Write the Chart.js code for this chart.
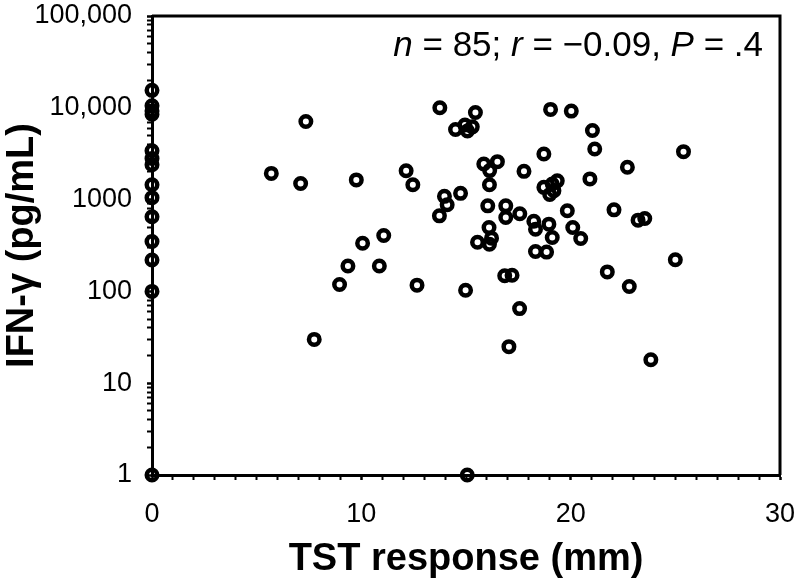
<!DOCTYPE html>
<html>
<head>
<meta charset="utf-8">
<script src="https://cdn.jsdelivr.net/npm/chart.js@4.4.1/dist/chart.umd.min.js"></script>
<style>
  body { margin: 0; background: #fff; }
  canvas { display: block; }
</style>
</head>
<body>
<canvas id="graficoTst" width="800" height="587"></canvas>
<script>
// TST induration (mm) vs IFN-γ (pg/mL), one entry per subject
const tstResponse = [
    0, 0, 0, 0, 0, 0, 0, 0, 0, 0, 0, 0, 0, 0,
    5.7, 7.1, 7.35, 7.75, 8.96, 9.36, 9.76, 10.06, 10.86, 11.07,
    12.14, 12.46, 12.66, 13.75, 14.5, 14.95, 15.07, 15.3, 15.45, 13.97,
    14.74, 14.1, 13.73, 14.98, 15.06, 15.85, 16.5, 16.13, 16.12, 16.04,
    16.1, 15.55, 16.12, 16.22, 16.9, 16.9, 17.57, 17.77, 16.85, 17.2,
    17.56, 17.05, 18.72, 19.04, 20.03, 21.04, 21.15, 25.39, 22.71, 20.92,
    18.72, 19.12, 19.36, 19.0, 19.2, 18.24, 18.32, 18.96, 19.84, 20.1,
    20.48, 19.12, 18.32, 18.85, 22.07, 23.22, 23.54, 25.0, 21.75, 22.8,
    23.83
];
const ifnGamma = [
    15500, 10500, 9200, 8500, 3400, 2800, 2400, 1450, 1050, 650, 350, 220, 100, 1,
    1930, 1500, 7100, 30, 119, 189, 1640, 335, 189, 407,
    2065, 1450, 117, 10000, 5800, 6500, 5600, 6200, 8900, 1085,
    1170, 880, 665, 103, 1, 2440, 2590, 2070, 1450, 855,
    497, 343, 326, 380, 855, 639, 700, 2030, 148, 150,
    65, 25, 3140, 9600, 9200, 5650, 3560, 3330, 2250, 1680,
    1360, 1480, 1600, 1135, 1250, 582, 476, 540, 755, 497,
    377, 386, 272, 268, 773, 597, 623, 221, 163, 113,
    18
];
const yMajorTicks = [1, 10, 100, 1000, 10000, 100000];
const yTickLabels = ['1', '10', '100', '1000', '10,000', '100,000'];
const xTickLabels = ['0', '10', '20', '30'];
const statsText = [['n', true], [' = 85; ', false], ['r', true], [' = \u22120.09, ', false], ['P', true], [' = .4', false]];

const fonte = 'Liberation Sans, Arial, Helvetica, sans-serif';

const pontos = tstResponse.map((x, i) => ({ x: x, y: ifnGamma[i] }));

// caixa em volta da area do grafico + texto com n, r, P
const molduraPlugin = {
    id: 'moldura',
    afterDraw(chart) {
        const ctx = chart.ctx;
        const a = chart.chartArea;
        ctx.save();
        ctx.strokeStyle = '#000';
        ctx.lineWidth = 3;
        ctx.beginPath();
        ctx.moveTo(a.left, a.top);
        ctx.lineTo(a.right, a.top);
        ctx.lineTo(a.right, a.bottom);
        ctx.stroke();

        ctx.fillStyle = '#000';
        ctx.textBaseline = 'alphabetic';
        let total = 0;
        statsText.forEach(([t, it]) => {
            ctx.font = (it ? 'italic ' : '') + '35px ' + fonte;
            total += ctx.measureText(t).width;
        });
        let x = a.right - 17 - total;
        const y = a.top + 40;
        statsText.forEach(([t, it]) => {
            ctx.font = (it ? 'italic ' : '') + '35px ' + fonte;
            ctx.fillText(t, x, y);
            x += ctx.measureText(t).width;
        });
        ctx.restore();
    }
};

const ctxTst = document.getElementById('graficoTst').getContext('2d');
const graficoTst = new Chart(ctxTst, {
    type: 'scatter',
    data: {
        datasets: [{
            label: 'IFN-γ vs TST',
            data: pontos,
            pointStyle: 'circle',
            pointRadius: 5.25,
            pointHoverRadius: 5.25,
            pointBorderWidth: 4.5,
            pointBackgroundColor: 'rgba(0,0,0,0)',
            pointBorderColor: '#000',
            clip: false
        }]
    },
    options: {
        responsive: false,
        animation: false,
        devicePixelRatio: 1,
        layout: {
            padding: { left: 0, top: 16, right: 20, bottom: 0 }
        },
        plugins: {
            legend: { display: false },
            tooltip: { enabled: false },
            title: { display: false }
        },
        scales: {
            x: {
                type: 'linear',
                min: 0,
                max: 30,
                afterFit: (scale) => {
                    scale.height = 112;
                    scale.paddingLeft = 0;
                    scale.paddingRight = 0;
                },
                border: { display: true, color: '#000', width: 3 },
                grid: {
                    drawOnChartArea: false,
                    drawTicks: true,
                    tickLength: 5,
                    tickColor: '#000',
                    tickWidth: (c) => (c.tick && c.tick.value % 10 === 0 ? 2.5 : 2)
                },
                ticks: {
                    stepSize: 1,
                    autoSkip: false,
                    maxRotation: 0,
                    padding: 18,
                    color: '#000',
                    font: { family: fonte, size: 27 },
                    callback: (v) => (v % 10 === 0 ? xTickLabels[v / 10] : '')
                },
                title: {
                    display: true,
                    text: 'TST response (mm)',
                    color: '#000',
                    font: { family: fonte, size: 38, weight: 'bold' },
                    padding: { top: 0, bottom: 5 }
                }
            },
            y: {
                type: 'logarithmic',
                min: 1,
                max: 100000,
                afterFit: (scale) => {
                    scale.width = 152;
                    scale.paddingTop = 0;
                    scale.paddingBottom = 0;
                },
                afterBuildTicks: (scale) => {
                    const t = [];
                    yMajorTicks.forEach((m, i) => {
                        t.push({ value: m, major: true });
                        if (i < yMajorTicks.length - 1) {
                            for (let k = 2; k <= 9; k++) t.push({ value: m * k, major: false });
                        }
                    });
                    scale.ticks = t;
                },
                border: { display: true, color: '#000', width: 3 },
                grid: {
                    drawOnChartArea: false,
                    drawTicks: true,
                    tickLength: 5,
                    tickColor: '#000',
                    tickWidth: (c) => (c.tick && yMajorTicks.includes(c.tick.value) ? 2.5 : 2)
                },
                ticks: {
                    autoSkip: false,
                    padding: 15,
                    color: '#000',
                    font: { family: fonte, size: 27 },
                    callback: (v) => {
                        const i = yMajorTicks.indexOf(v);
                        return i >= 0 ? yTickLabels[i] : '';
                    }
                },
                title: {
                    display: true,
                    text: 'IFN-γ (pg/mL)',
                    color: '#000',
                    font: { family: fonte, size: 38, weight: 'bold' },
                    padding: { top: 0, bottom: 0 }
                }
            }
        }
    },
    plugins: [molduraPlugin]
});
</script>
</body>
</html>
